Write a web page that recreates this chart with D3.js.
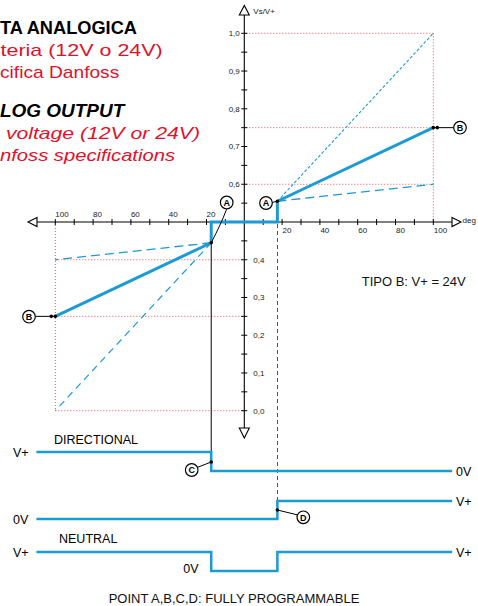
<!DOCTYPE html>
<html><head><meta charset="utf-8">
<script src="https://cdn.jsdelivr.net/npm/d3@7"></script>
<style>html,body{margin:0;padding:0;background:#fff;}svg{display:block;font-family:"Liberation Sans",Arial,sans-serif;}</style>
</head><body>
<script>
// ---------- DATA ----------
const degTicks = [10,20,30,40,50,60,70,80,90,100];
const degLabels = [20,40,60,80,100];
const voltTicks = [0,0.05,0.1,0.15,0.2,0.25,0.3,0.35,0.4,0.45,0.55,0.6,0.65,0.7,0.75,0.8,0.85,0.9,0.95,1.0];
const voltLabelsUpper = [0.6,0.7,0.8,0.9,1.0];
const voltLabelsLower = [0.0,0.1,0.2,0.3,0.4];
const pointADeg = 17.5;
const pointAHigh = 0.555, pointALow = 0.445;
const pointBDeg = 100;
const pointBHigh = 0.75, pointBLow = 0.25;
const rangeUpper = [1.0, 0.6];   // extreme programmable values (forward)
const rangeLower = [0.0, 0.4];   // extreme programmable values (reverse)
const signalNames = ["DIRECTIONAL", "", "NEUTRAL"];
const signalBreaks = [[-110,-17.5,110],[-110,17.5,110],[-110,-17.5,17.5,110]];
const signalLevels = [[1,0],[0,1],[1,0,1]];
const levelLabels = ["0V","V+"];
const titleLines = ["TA ANALOGICA","teria (12V o 24V)","cifica Danfoss","LOG OUTPUT"," voltage (12V or 24V)","nfoss specifications"];

// ---------- DRAW ----------
const W = 478, H = 606;
const BLUE = "#1b9ad6", RED = "#e2102a", DOT = "#e8505e";
const svg = d3.select("body").append("svg").attr("width", W).attr("height", H);

const x = d3.scaleLinear().domain([-100,100]).range([55.3,433.3]);
const y = d3.scaleLinear().domain([0,1]).range([410.7,33.3]);
const x0 = x(0), y0 = y(0.5);
const fmt = v => d3.format(".1f")(v).replace(".", ",");

// titles
const titleSpec = [
  {x:0, end:137, y:34, size:17.5, w:"bold", st:"normal", c:"#000"},
  {x:0.5, end:162.7, y:55.5, size:17, w:"normal", st:"normal", c:RED},
  {x:0, end:119.3, y:78, size:17, w:"normal", st:"normal", c:RED},
  {x:0, end:124.3, y:117, size:18, w:"bold", st:"italic", c:"#000"},
  {x:0, end:200, y:139, size:17, w:"normal", st:"italic", c:RED},
  {x:0, end:175, y:161, size:17, w:"normal", st:"italic", c:RED}
];
titleLines.forEach((t,i) => {
  const s = titleSpec[i];
  svg.append("text").attr("x", s.x).attr("y", s.y).attr("font-size", s.size)
    .attr("font-weight", s.w).attr("font-style", s.st).attr("fill", s.c)
    .attr("textLength", s.end - s.x).attr("lengthAdjust", "spacingAndGlyphs")
    .attr("xml:space","preserve").style("white-space","pre")
    .text(t);
});

// red dotted guides
const guides = svg.append("g").attr("stroke", DOT).attr("stroke-width", 1).attr("stroke-dasharray", "1,2").attr("fill","none");
[rangeUpper[0], pointBHigh, rangeUpper[1]].forEach(v => guides.append("line").attr("x1", x0+2).attr("x2", x(pointBDeg)).attr("y1", y(v)).attr("y2", y(v)));
guides.append("line").attr("x1", x(pointBDeg)).attr("x2", x(pointBDeg)).attr("y1", y(rangeUpper[0])).attr("y2", y0);
[rangeLower[1], pointBLow, rangeLower[0]].forEach(v => guides.append("line").attr("x1", x(-pointBDeg)).attr("x2", x0-2).attr("y1", y(v)).attr("y2", y(v)));
guides.append("line").attr("x1", x(-pointBDeg)).attr("x2", x(-pointBDeg)).attr("y1", y0).attr("y2", y(rangeLower[0]));

// red dashed line (point D)
const xD = Math.round(x(pointADeg)) + 0.5;
svg.append("line").attr("x1", xD).attr("x2", xD).attr("y1", y0+2).attr("y2", 500)
  .attr("stroke", RED).attr("stroke-width", 1).attr("stroke-dasharray", "4,3");

// axes
const ax = svg.append("g").attr("stroke", "#000").attr("fill", "none");
ax.append("line").attr("x1", 37).attr("x2", 452).attr("y1", y0).attr("y2", y0).attr("stroke-width", 1.1);
ax.append("line").attr("x1", x0).attr("x2", x0).attr("y1", 15).attr("y2", 428).attr("stroke-width", 1.1);
degTicks.forEach(d => {
  [d, -d].forEach(s => ax.append("line").attr("x1", x(s)).attr("x2", x(s)).attr("y1", y0-3).attr("y2", y0+3));
});
voltTicks.forEach(v => ax.append("line").attr("x1", x0-3).attr("x2", x0+3).attr("y1", y(v)).attr("y2", y(v)));
// arrowheads
const arrow = svg.append("g").attr("stroke", "#000").attr("stroke-width", 1.1).attr("fill", "#fff");
arrow.append("path").attr("d", `M37,${y0-4.5}L28,${y0}L37,${y0+4.5}Z`);
arrow.append("path").attr("d", `M452,${y0-4.5}L461,${y0}L452,${y0+4.5}Z`);
arrow.append("path").attr("d", `M${x0-5},15L${x0},5.5L${x0+5},15Z`);
arrow.append("path").attr("d", `M${x0-5},428L${x0},438L${x0+5},428Z`);

// tick labels
const tl = svg.append("g").attr("font-size", 8).attr("fill", "#222");
degLabels.forEach(d => {
  tl.append("text").attr("x", x(d)+0.5).attr("y", y0+11).text(d);
  tl.append("text").attr("x", x(-d)).attr("y", y0-5).text(d);
});
voltLabelsUpper.forEach(v => tl.append("text").attr("x", x0-4.5).attr("y", y(v)).attr("dy","0.35em").attr("text-anchor","end").text(fmt(v)));
voltLabelsLower.forEach(v => tl.append("text").attr("x", x0+9).attr("y", y(v)).attr("dy","0.35em").text(fmt(v)));
tl.append("text").attr("x", x0+9).attr("y", 13.5).text("Vs/V+");
tl.append("text").attr("x", 462.5).attr("y", y0+1).text("deg");

// black connector vertical (point C)
svg.append("line").attr("x1", x(-pointADeg)).attr("x2", x(-pointADeg)).attr("y1", y(pointALow)).attr("y2", 462)
  .attr("stroke", "#000").attr("stroke-width", 1);

// blue characteristic lines
const line = d3.line().x(d => x(d[0])).y(d => y(d[1]));
const lines = svg.append("g").attr("fill", "none").attr("stroke", BLUE);
lines.append("path").attr("d", line([[pointADeg,pointAHigh],[pointBDeg,rangeUpper[0]]])).attr("stroke-width", 1.1).attr("stroke-dasharray", "3,2");
lines.append("path").attr("d", line([[pointADeg,pointAHigh],[pointBDeg,rangeUpper[1]]])).attr("stroke-width", 1.3).attr("stroke-dasharray", "9,5");
lines.append("path").attr("d", line([[-pointADeg,pointALow],[-pointBDeg,rangeLower[1]]])).attr("stroke-width", 1.3).attr("stroke-dasharray", "9,5");
lines.append("path").attr("d", line([[-pointADeg,pointALow],[-pointBDeg,rangeLower[0]]])).attr("stroke-width", 1.2).attr("stroke-dasharray", "7,5");
lines.append("path").attr("d", line([[pointADeg,pointAHigh],[pointBDeg,pointBHigh]])).attr("stroke-width", 3);
lines.append("path").attr("d", line([[-pointADeg,pointALow],[-pointBDeg,pointBLow]])).attr("stroke-width", 3);
lines.append("path").attr("d", line([[-pointADeg,pointALow],[-pointADeg,0.5],[pointADeg,0.5],[pointADeg,pointAHigh]])).attr("stroke-width", 3).attr("stroke-linejoin","miter");

// digital signals
const rowHigh = [452, 501, 552], rowLow = [471, 519, 571];
const sig = svg.append("g");
signalBreaks.forEach((br, r) => {
  const ly = d3.scaleLinear().domain([0,1]).range([rowLow[r], rowHigh[r]]);
  const pts = [];
  signalLevels[r].forEach((lv, i) => { pts.push([x(br[i]), ly(lv)]); pts.push([x(br[i+1]), ly(lv)]); });
  sig.append("path").attr("d", d3.line()(pts)).attr("fill","none").attr("stroke", BLUE).attr("stroke-width", 2.5);
  const first = signalLevels[r][0], last = signalLevels[r][signalLevels[r].length-1];
  sig.append("text").attr("x", 13).attr("y", ly(first)).attr("dy","0.36em").attr("font-size", 12.5).text(levelLabels[first]);
  sig.append("text").attr("x", 456).attr("y", ly(last)).attr("dy","0.36em").attr("font-size", 12.5).text(levelLabels[last]);
});
sig.append("text").attr("x", 54).attr("y", 444).attr("font-size", 12.5).text(signalNames[0]);
sig.append("text").attr("x", 59).attr("y", 542.5).attr("font-size", 12.5).text(signalNames[2]);
sig.append("text").attr("x", 198.5).attr("y", 572.7).attr("text-anchor","end").attr("font-size", 12.5).text(levelLabels[0]);

// leaders, dots and circled labels
const lead = svg.append("g").attr("stroke", "#000").attr("stroke-width", 1).attr("fill", "none");
lead.append("line").attr("x1", 272).attr("y1", 202.5).attr("x2", x(pointADeg)).attr("y2", y(pointAHigh));
lead.append("path").attr("d", `M226.5,209.5 Q221,224 ${x(-pointADeg)},${y(pointALow)}`);
lead.append("line").attr("x1", x(pointBDeg)).attr("y1", y(pointBHigh)).attr("x2", 453.5).attr("y2", y(pointBHigh));
lead.append("line").attr("x1", 35.5).attr("y1", y(pointBLow)).attr("x2", x(-pointBDeg)).attr("y2", y(pointBLow));
lead.append("line").attr("x1", 197).attr("y1", 467.5).attr("x2", x(-pointADeg)).attr("y2", 462);
lead.append("line").attr("x1", 298).attr("y1", 515).attr("x2", x(pointADeg)).attr("y2", 510);

const dots = [[x(pointADeg), y(pointAHigh)], [x(-pointADeg), y(pointALow)], [x(pointBDeg), y(pointBHigh)], [x(pointBDeg)+4, y(pointBHigh)],
  [x(-pointBDeg), y(pointBLow)], [x(-pointBDeg)-4, y(pointBLow)], [x(-pointADeg), 462], [x(pointADeg), 510]];
svg.append("g").selectAll("circle").data(dots).join("circle").attr("cx", d => d[0]).attr("cy", d => d[1]).attr("r", 1.8).attr("fill", "#000");

const badges = [["A",266,203],["A",226.7,202.5],["B",460,127.7],["B",29,316.7],["C",191.7,470],["D",303.3,517.3]];
const bg = svg.append("g");
badges.forEach(b => {
  bg.append("circle").attr("cx", b[1]).attr("cy", b[2]).attr("r", 6.3).attr("fill", "#fff").attr("stroke", "#000").attr("stroke-width", 1.2);
  bg.append("text").attr("x", b[1]).attr("y", b[2]).attr("dy", "0.36em").attr("text-anchor", "middle").attr("font-size", 9).attr("font-weight", "bold").text(b[0]);
});

// notes
svg.append("text").attr("x", 361.7).attr("y", 285.5).attr("font-size", 13).attr("fill", "#111").text("TIPO B: V+ = 24V");
svg.append("text").attr("x", 234).attr("y", 602.5).attr("text-anchor", "middle").attr("font-size", 13).attr("fill", "#111").text("POINT A,B,C,D: FULLY PROGRAMMABLE");
</script>
</body></html>
